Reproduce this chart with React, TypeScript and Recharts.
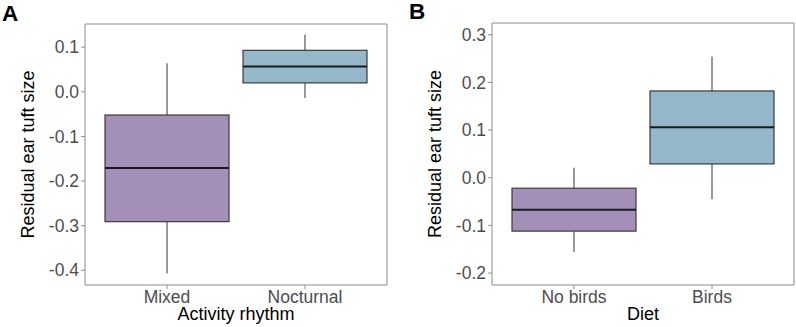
import { ComposedChart, Bar, XAxis, YAxis, Label } from "recharts";

const FONT = '"Liberation Sans", Arial, sans-serif';
const FRAME = "#8c8c8c";

// Panel A: ear tuft size by activity rhythm
const rhythmGroups = ["Mixed", "Nocturnal"];
const rhythmMin = [-0.407, -0.014];
const rhythmQ1 = [-0.291, 0.02];
const rhythmMedian = [-0.171, 0.057];
const rhythmQ3 = [-0.052, 0.093];
const rhythmMax = [0.064, 0.128];
const rhythmTicks = [-0.4, -0.3, -0.2, -0.1, 0, 0.1];

// Panel B: ear tuft size by diet
const dietGroups = ["No birds", "Birds"];
const dietMin = [-0.156, -0.045];
const dietQ1 = [-0.112, 0.029];
const dietMedian = [-0.067, 0.106];
const dietQ3 = [-0.022, 0.182];
const dietMax = [0.021, 0.254];
const dietTicks = [-0.2, -0.1, 0, 0.1, 0.2, 0.3];

const boxColors = ["#A48FB9", "#94B8C9"];

type BoxRow = {
  group: string;
  min: number;
  q1: number;
  median: number;
  q3: number;
  max: number;
  fill: string;
};

const buildRows = (
  groups: string[],
  min: number[],
  q1: number[],
  median: number[],
  q3: number[],
  max: number[]
): BoxRow[] =>
  groups.map((group, i) => ({
    group,
    min: min[i],
    q1: q1[i],
    median: median[i],
    q3: q3[i],
    max: max[i],
    fill: boxColors[i % boxColors.length],
  }));

// The bar spans min..max; everything else is placed relative to it
const BoxShape = (props: any) => {
  const { x, y, width, height, payload } = props;
  const top = Math.min(y, y + height);
  const bottom = Math.max(y, y + height);
  const span = payload.max - payload.min;
  const py = (v: number) => top + ((payload.max - v) / span) * (bottom - top);
  const cx = x + width / 2;
  return (
    <g>
      <line x1={cx} x2={cx} y1={py(payload.max)} y2={py(payload.q3)} stroke="#333" strokeWidth={1} />
      <line x1={cx} x2={cx} y1={py(payload.q1)} y2={py(payload.min)} stroke="#333" strokeWidth={1} />
      <rect
        x={x}
        y={py(payload.q3)}
        width={width}
        height={py(payload.q1) - py(payload.q3)}
        fill={payload.fill}
        stroke="#3a3a3a"
        strokeWidth={1.2}
      />
      <line x1={x} x2={x + width} y1={py(payload.median)} y2={py(payload.median)} stroke="#1a1a1a" strokeWidth={2} />
    </g>
  );
};

type PanelProps = {
  rows: BoxRow[];
  ticks: number[];
  domain: [number, number];
  xTitle: string;
  yAxisWidth: number;
  top: number;
  right: number;
  titleX: number;
};

function BoxPanel({ rows, ticks, domain, xTitle, yAxisWidth, top, right, titleX }: PanelProps) {
  const tickStyle = { fill: "#4d4d4d", fontSize: 17.5, fontFamily: FONT };
  // top and right axes are 1px strips that only carry the frame line
  return (
    <ComposedChart
      width={398}
      height={327}
      data={rows}
      margin={{ top: top - 1, right: right - 1, bottom: 0, left: 0 }}
      barSize={124}
    >
      <XAxis
        dataKey="group"
        height={42}
        interval={0}
        padding={{ left: 13, right: 13 }}
        tickSize={4}
        tickMargin={2}
        tickLine={{ stroke: FRAME }}
        axisLine={{ stroke: FRAME }}
        tick={tickStyle}
      >
        <Label value={xTitle} position="insideBottom" offset={7} fill="#000" fontSize={18} fontFamily={FONT} />
      </XAxis>
      <XAxis
        xAxisId="top"
        orientation="top"
        dataKey="group"
        height={1}
        padding={{ left: 13, right: 13 }}
        tick={false}
        tickLine={false}
        axisLine={{ stroke: FRAME }}
      />
      <YAxis
        type="number"
        domain={domain}
        allowDataOverflow
        ticks={ticks}
        width={yAxisWidth}
        tickSize={4}
        tickMargin={2}
        tickLine={{ stroke: FRAME }}
        axisLine={{ stroke: FRAME }}
        tick={tickStyle}
        tickFormatter={(v: number) => v.toFixed(1)}
      >
        <Label
          content={({ viewBox }: any) => {
            const cy = viewBox.y + viewBox.height / 2;
            return (
              <text
                x={titleX}
                y={cy}
                dy="0.36em"
                transform={`rotate(-90 ${titleX} ${cy})`}
                textAnchor="middle"
                fill="#000"
                fontSize={18}
                fontFamily={FONT}
              >
                Residual ear tuft size
              </text>
            );
          }}
        />
      </YAxis>
      <YAxis
        yAxisId="right"
        orientation="right"
        type="number"
        domain={[0, 1]}
        width={1}
        tick={false}
        tickLine={false}
        axisLine={{ stroke: FRAME }}
      />
      <Bar
        dataKey={(d: BoxRow) => [d.min, d.max]}
        shape={<BoxShape />}
        isAnimationActive={false}
      />
    </ComposedChart>
  );
}

export default function App() {
  const rhythmRows = buildRows(rhythmGroups, rhythmMin, rhythmQ1, rhythmMedian, rhythmQ3, rhythmMax);
  const dietRows = buildRows(dietGroups, dietMin, dietQ1, dietMedian, dietQ3, dietMax);
  return (
    <div style={{ position: "absolute", left: 0, top: 0, width: 796, height: 327, background: "#fff" }}>
      <div style={{ position: "absolute", left: 0, top: 0 }}>
        <BoxPanel
          rows={rhythmRows}
          ticks={rhythmTicks}
          domain={[-0.433, 0.152]}
          xTitle="Activity rhythm"
          yAxisWidth={85}
          top={24}
          right={11}
          titleX={28}
        />
      </div>
      <div style={{ position: "absolute", left: 398, top: 0 }}>
        <BoxPanel
          rows={dietRows}
          ticks={dietTicks}
          domain={[-0.225, 0.3245]}
          xTitle="Diet"
          yAxisWidth={94}
          top={23}
          right={2}
          titleX={37}
        />
      </div>
      <svg width={796} height={327} style={{ position: "absolute", left: 0, top: 0, pointerEvents: "none" }}>
        <text x={2} y={20.5} fontSize={22.5} fontWeight="bold" fontFamily={FONT} fill="#000">
          A
        </text>
        <text x={409} y={18.5} fontSize={22.5} fontWeight="bold" fontFamily={FONT} fill="#000">
          B
        </text>
      </svg>
    </div>
  );
}
